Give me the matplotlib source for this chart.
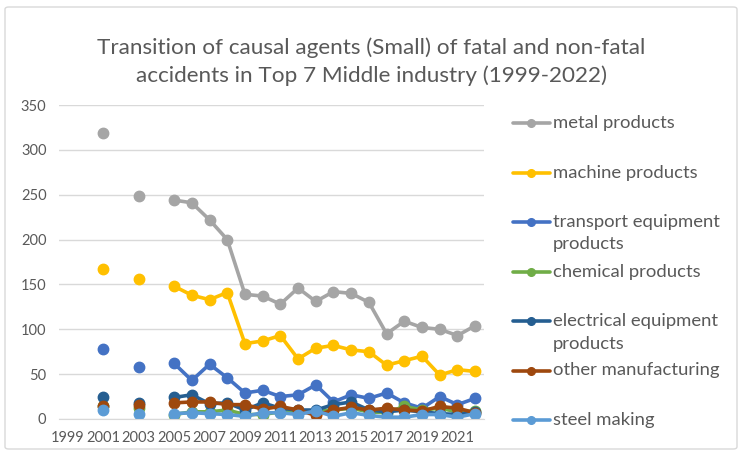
import numpy as np
import matplotlib.pyplot as plt
from matplotlib.patches import FancyBboxPatch
from matplotlib.lines import Line2D

plt.rcParams['font.family'] = ['Lato', 'DejaVu Sans']

nan = np.nan
years = list(range(1999, 2023))

# 1999, 2000, 2002, 2004 have no data
metal = [nan, nan, 319, nan, 249, nan, 244, 241, 222, 200, 139, 137, 128, 146, 131, 142, 140, 130, 95, 109, 102, 100, 93, 104]
machine = [nan, nan, 167, nan, 156, nan, 148, 138, 133, 141, 84, 87, 93, 67, 79, 82, 77, 75, 60, 65, 70, 49, 55, 53]
transport = [nan, nan, 78, nan, 58, nan, 62, 43, 61, 46, 29, 32, 25, 27, 38, 19, 27, 23, 29, 18, 12, 25, 16, 23]
chemical = [nan, nan, 15, nan, 12, nan, 5, 8, 8, 10, 5, 5, 8, 8, 9, 10, 12, 8, 7, 14, 10, 12, 8, 9]
electrical = [nan, nan, 25, nan, 18, nan, 24, 27, 17, 18, 10, 18, 12, 10, 10, 16, 19, 10, 8, 10, 8, 6, 5, 8]
other = [nan, nan, 14, nan, 16, nan, 18, 19, 19, 16, 16, 11, 14, 10, 4, 10, 13, 10, 12, 10, 9, 14, 12, 7]
steel = [nan, nan, 10, nan, 6, nan, 6, 7, 6, 5, 3, 7, 7, 5, 9, 3, 7, 4, 2, 2, 5, 5, 2, 6]

names = ['metal products', 'machine products', 'transport equipment\nproducts', 'chemical products',
         'electrical equipment\nproducts', 'other manufacturing', 'steel making']
series = [metal, machine, transport, chemical, electrical, other, steel]
colors = ['#A5A5A5', '#FFC000', '#4472C4', '#70AD47', '#255E91', '#9E480E', '#5B9BD5']

txt = '#595959'
fig = plt.figure(figsize=(7.43, 4.57), dpi=100)
ax = fig.add_axes([59/743, 1-419/457, 425/743, 314/457])

for vals, c in zip(series, colors):
    ax.plot(years, vals, color=c, linewidth=2.6, marker='o', markersize=7.5,
            solid_capstyle='round', solid_joinstyle='round')

ax.set_ylim(0, 350)
ax.set_xlim(1998.5, 2022.5)
ax.set_yticks(range(0, 351, 50))
ax.set_xticks(years[::2])
ax.tick_params(length=0, labelsize=10.5, labelcolor=txt, pad=9)
ax.grid(axis='y', color='#D9D9D9', linewidth=1)
ax.set_axisbelow(True)
for s in ['top', 'right', 'left']:
    ax.spines[s].set_visible(False)
ax.spines['bottom'].set_color('#D9D9D9')

fig.text(0.5, 1-48/457, 'Transition of causal agents (Small) of fatal and non-fatal',
         ha='center', va='center', fontsize=16.2, color=txt)
fig.text(0.5, 1-76/457, 'accidents in Top 7 Middle industry (1999-2022)',
         ha='center', va='center', fontsize=16.2, color=txt)

# legend, entries evenly spaced on the right
for i, (name, c) in enumerate(zip(names, colors)):
    ypx = 123 + i*49.5
    yy = 1 - ypx/457
    fig.add_artist(Line2D([513/743, 531/743, 550/743], [yy, yy, yy], color=c, linewidth=2.6,
                          marker='o', markersize=5.5, markevery=[1], solid_capstyle='round'))
    for k, line in enumerate(name.split('\n')):
        fig.text(553/743, 1 - (ypx + k*22.5)/457, line, ha='left', va='center',
                 fontsize=13.3, color=txt)

fig.add_artist(FancyBboxPatch((5/743, 8/457), 732/743, 442/457, boxstyle='round,pad=0,rounding_size=0.005',
                              transform=fig.transFigure, fill=False, edgecolor='#D9D9D9', linewidth=1))

fig.savefig('out.png', dpi=100)
